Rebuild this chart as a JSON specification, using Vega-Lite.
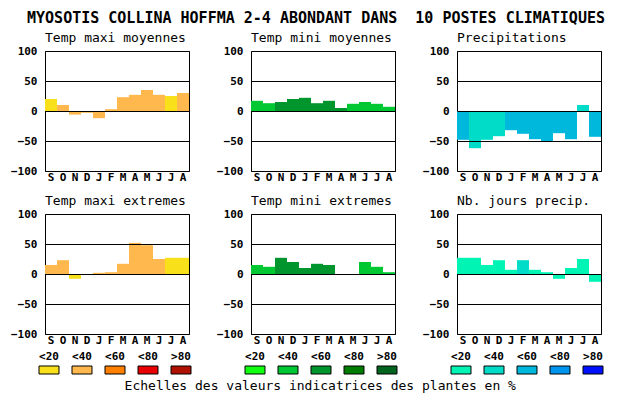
{
  "$schema": "https://vega.github.io/schema/vega-lite/v6.json",
  "background": "white",
  "padding": {"left": 10, "top": 10, "right": 5, "bottom": 3},
  "title": {"text": "MYOSOTIS COLLINA HOFFMA 2-4 ABONDANT DANS \u00a010 POSTES CLIMATIQUES", "fontSize": 15, "fontWeight": "bold", "anchor": "middle", "offset": 6},
  "datasets": {
    "tmaxmoy": [
      {"mois": "Sept", "valeur": 20, "classe": "<20"}, {"mois": "Oct", "valeur": 10, "classe": "<40"},
      {"mois": "Nov", "valeur": -6, "classe": "<40"}, {"mois": "Dec", "valeur": -3, "classe": "<40"},
      {"mois": "Janv", "valeur": -12, "classe": "<40"}, {"mois": "Fevr", "valeur": 3, "classe": "<40"},
      {"mois": "Mars", "valeur": 23, "classe": "<40"}, {"mois": "Avr", "valeur": 27, "classe": "<40"},
      {"mois": "Mai", "valeur": 35, "classe": "<40"}, {"mois": "Juin", "valeur": 27, "classe": "<40"},
      {"mois": "Juil", "valeur": 25, "classe": "<20"}, {"mois": "Aout", "valeur": 30, "classe": "<40"}
    ],
    "tminmoy": [
      {"mois": "Sept", "valeur": 17, "classe": "<40"}, {"mois": "Oct", "valeur": 13, "classe": "<40"},
      {"mois": "Nov", "valeur": 15, "classe": "<60"}, {"mois": "Dec", "valeur": 20, "classe": "<60"},
      {"mois": "Janv", "valeur": 22, "classe": "<60"}, {"mois": "Fevr", "valeur": 13, "classe": "<60"},
      {"mois": "Mars", "valeur": 17, "classe": "<60"}, {"mois": "Avr", "valeur": 5, "classe": "<60"},
      {"mois": "Mai", "valeur": 12, "classe": "<40"}, {"mois": "Juin", "valeur": 15, "classe": "<40"},
      {"mois": "Juil", "valeur": 12, "classe": "<40"}, {"mois": "Aout", "valeur": 7, "classe": "<40"}
    ],
    "precip": [
      {"mois": "Sept", "valeur": -48, "classe": "<60"}, {"mois": "Oct", "valeur": -62, "classe": "<40"},
      {"mois": "Nov", "valeur": -48, "classe": "<40"}, {"mois": "Dec", "valeur": -42, "classe": "<40"},
      {"mois": "Janv", "valeur": -32, "classe": "<60"}, {"mois": "Fevr", "valeur": -38, "classe": "<60"},
      {"mois": "Mars", "valeur": -47, "classe": "<60"}, {"mois": "Avr", "valeur": -50, "classe": "<60"},
      {"mois": "Mai", "valeur": -37, "classe": "<60"}, {"mois": "Juin", "valeur": -47, "classe": "<60"},
      {"mois": "Juil", "valeur": 10, "classe": "<40"}, {"mois": "Aout", "valeur": -43, "classe": "<60"}
    ],
    "tmaxext": [
      {"mois": "Sept", "valeur": 15, "classe": "<40"}, {"mois": "Oct", "valeur": 23, "classe": "<40"},
      {"mois": "Nov", "valeur": -8, "classe": "<20"}, {"mois": "Dec", "valeur": 0, "classe": "<40"},
      {"mois": "Janv", "valeur": 2, "classe": "<40"}, {"mois": "Fevr", "valeur": 3, "classe": "<40"},
      {"mois": "Mars", "valeur": 17, "classe": "<40"}, {"mois": "Avr", "valeur": 52, "classe": "<40"},
      {"mois": "Mai", "valeur": 48, "classe": "<40"}, {"mois": "Juin", "valeur": 25, "classe": "<40"},
      {"mois": "Juil", "valeur": 27, "classe": "<20"}, {"mois": "Aout", "valeur": 27, "classe": "<20"}
    ],
    "tminext": [
      {"mois": "Sept", "valeur": 15, "classe": "<40"}, {"mois": "Oct", "valeur": 12, "classe": "<40"},
      {"mois": "Nov", "valeur": 27, "classe": "<60"}, {"mois": "Dec", "valeur": 20, "classe": "<60"},
      {"mois": "Janv", "valeur": 10, "classe": "<60"}, {"mois": "Fevr", "valeur": 17, "classe": "<60"},
      {"mois": "Mars", "valeur": 15, "classe": "<60"}, {"mois": "Avr", "valeur": 0, "classe": "<60"},
      {"mois": "Mai", "valeur": 0, "classe": "<40"}, {"mois": "Juin", "valeur": 20, "classe": "<40"},
      {"mois": "Juil", "valeur": 12, "classe": "<40"}, {"mois": "Aout", "valeur": 3, "classe": "<40"}
    ],
    "nbjours": [
      {"mois": "Sept", "valeur": 27, "classe": "<20"}, {"mois": "Oct", "valeur": 27, "classe": "<20"},
      {"mois": "Nov", "valeur": 15, "classe": "<20"}, {"mois": "Dec", "valeur": 23, "classe": "<20"},
      {"mois": "Janv", "valeur": 7, "classe": "<20"}, {"mois": "Fevr", "valeur": 23, "classe": "<40"},
      {"mois": "Mars", "valeur": 7, "classe": "<20"}, {"mois": "Avr", "valeur": 3, "classe": "<20"},
      {"mois": "Mai", "valeur": -8, "classe": "<20"}, {"mois": "Juin", "valeur": 10, "classe": "<20"},
      {"mois": "Juil", "valeur": 25, "classe": "<20"}, {"mois": "Aout", "valeur": -13, "classe": "<20"}
    ],
    "classes": [
      {"classe": "<20"}, {"classe": "<40"}, {"classe": "<60"}, {"classe": "<80"}, {"classe": ">80"}
    ]
  },
  "vconcat": [
    {
      "vconcat": [
        {
          "hconcat": [
            {
              "title": {"text": "Temp maxi moyennes", "anchor": "start", "frame": "group", "fontSize": 13, "fontWeight": "normal", "offset": 0},
              "width": 144, "height": 120,
              "data": {"name": "tmaxmoy"},
              "mark": {"type": "bar"},
              "encoding": {
                "x": {"field": "mois", "type": "ordinal", "sort": ["Sept","Oct","Nov","Dec","Janv","Fevr","Mars","Avr","Mai","Juin","Juil","Aout"], "scale": {"paddingInner": 0, "paddingOuter": 0}, "axis": {"labelExpr": "substring(datum.label, 0, 1)", "labelAngle": 0, "labelPadding": 0, "grid": false}},
                "y": {"field": "valeur", "type": "quantitative", "scale": {"domain": [-100, 100], "nice": false}, "axis": {"values": [-100, -50, 0, 50, 100], "grid": true, "gridColor": "black", "gridOpacity": 1, "gridWidth": 1, "labelPadding": 8, "zindex": 1}},
                "color": {"field": "classe", "type": "nominal", "scale": {"domain": ["<20","<40","<60","<80",">80"], "range": ["#f8e11a","#ffb84d","#ff8000","#e80000","#b01000"]}, "legend": null}
              }
            },
            {
              "title": {"text": "Temp mini moyennes", "anchor": "start", "frame": "group", "fontSize": 13, "fontWeight": "normal", "offset": 0},
              "width": 144, "height": 120,
              "data": {"name": "tminmoy"},
              "mark": {"type": "bar"},
              "encoding": {
                "x": {"field": "mois", "type": "ordinal", "sort": ["Sept","Oct","Nov","Dec","Janv","Fevr","Mars","Avr","Mai","Juin","Juil","Aout"], "scale": {"paddingInner": 0, "paddingOuter": 0}, "axis": {"labelExpr": "substring(datum.label, 0, 1)", "labelAngle": 0, "labelPadding": 0, "grid": false}},
                "y": {"field": "valeur", "type": "quantitative", "scale": {"domain": [-100, 100], "nice": false}, "axis": {"values": [-100, -50, 0, 50, 100], "grid": true, "gridColor": "black", "gridOpacity": 1, "gridWidth": 1, "labelPadding": 8, "zindex": 1}},
                "color": {"field": "classe", "type": "nominal", "scale": {"domain": ["<20","<40","<60","<80",">80"], "range": ["#10ff10","#00c832","#00962d","#007d00","#00641e"]}, "legend": null}
              }
            },
            {
              "title": {"text": "Precipitations", "anchor": "start", "frame": "group", "fontSize": 13, "fontWeight": "normal", "offset": 0},
              "width": 144, "height": 120,
              "data": {"name": "precip"},
              "mark": {"type": "bar"},
              "encoding": {
                "x": {"field": "mois", "type": "ordinal", "sort": ["Sept","Oct","Nov","Dec","Janv","Fevr","Mars","Avr","Mai","Juin","Juil","Aout"], "scale": {"paddingInner": 0, "paddingOuter": 0}, "axis": {"labelExpr": "substring(datum.label, 0, 1)", "labelAngle": 0, "labelPadding": 0, "grid": false}},
                "y": {"field": "valeur", "type": "quantitative", "scale": {"domain": [-100, 100], "nice": false}, "axis": {"values": [-100, -50, 0, 50, 100], "grid": true, "gridColor": "black", "gridOpacity": 1, "gridWidth": 1, "labelPadding": 8, "zindex": 1}},
                "color": {"field": "classe", "type": "nominal", "scale": {"domain": ["<20","<40","<60","<80",">80"], "range": ["#00f5b4","#00dcc8","#00b8dc","#0096f0","#0010ff"]}, "legend": null}
              }
            }
          ],
          "spacing": 62, "bounds": "flush",
          "resolve": {"scale": {"color": "independent"}}
        },
        {
          "hconcat": [
            {
              "title": {"text": "Temp maxi extremes", "anchor": "start", "frame": "group", "fontSize": 13, "fontWeight": "normal", "offset": 0},
              "width": 144, "height": 120,
              "data": {"name": "tmaxext"},
              "mark": {"type": "bar"},
              "encoding": {
                "x": {"field": "mois", "type": "ordinal", "sort": ["Sept","Oct","Nov","Dec","Janv","Fevr","Mars","Avr","Mai","Juin","Juil","Aout"], "scale": {"paddingInner": 0, "paddingOuter": 0}, "axis": {"labelExpr": "substring(datum.label, 0, 1)", "labelAngle": 0, "labelPadding": 0, "grid": false}},
                "y": {"field": "valeur", "type": "quantitative", "scale": {"domain": [-100, 100], "nice": false}, "axis": {"values": [-100, -50, 0, 50, 100], "grid": true, "gridColor": "black", "gridOpacity": 1, "gridWidth": 1, "labelPadding": 8, "zindex": 1}},
                "color": {"field": "classe", "type": "nominal", "scale": {"domain": ["<20","<40","<60","<80",">80"], "range": ["#f8e11a","#ffb84d","#ff8000","#e80000","#b01000"]}, "legend": null}
              }
            },
            {
              "title": {"text": "Temp mini extremes", "anchor": "start", "frame": "group", "fontSize": 13, "fontWeight": "normal", "offset": 0},
              "width": 144, "height": 120,
              "data": {"name": "tminext"},
              "mark": {"type": "bar"},
              "encoding": {
                "x": {"field": "mois", "type": "ordinal", "sort": ["Sept","Oct","Nov","Dec","Janv","Fevr","Mars","Avr","Mai","Juin","Juil","Aout"], "scale": {"paddingInner": 0, "paddingOuter": 0}, "axis": {"labelExpr": "substring(datum.label, 0, 1)", "labelAngle": 0, "labelPadding": 0, "grid": false}},
                "y": {"field": "valeur", "type": "quantitative", "scale": {"domain": [-100, 100], "nice": false}, "axis": {"values": [-100, -50, 0, 50, 100], "grid": true, "gridColor": "black", "gridOpacity": 1, "gridWidth": 1, "labelPadding": 8, "zindex": 1}},
                "color": {"field": "classe", "type": "nominal", "scale": {"domain": ["<20","<40","<60","<80",">80"], "range": ["#10ff10","#00c832","#00962d","#007d00","#00641e"]}, "legend": null}
              }
            },
            {
              "title": {"text": "Nb. jours precip.", "anchor": "start", "frame": "group", "fontSize": 13, "fontWeight": "normal", "offset": 0},
              "width": 144, "height": 120,
              "data": {"name": "nbjours"},
              "mark": {"type": "bar"},
              "encoding": {
                "x": {"field": "mois", "type": "ordinal", "sort": ["Sept","Oct","Nov","Dec","Janv","Fevr","Mars","Avr","Mai","Juin","Juil","Aout"], "scale": {"paddingInner": 0, "paddingOuter": 0}, "axis": {"labelExpr": "substring(datum.label, 0, 1)", "labelAngle": 0, "labelPadding": 0, "grid": false}},
                "y": {"field": "valeur", "type": "quantitative", "scale": {"domain": [-100, 100], "nice": false}, "axis": {"values": [-100, -50, 0, 50, 100], "grid": true, "gridColor": "black", "gridOpacity": 1, "gridWidth": 1, "labelPadding": 8, "zindex": 1}},
                "color": {"field": "classe", "type": "nominal", "scale": {"domain": ["<20","<40","<60","<80",">80"], "range": ["#00f5b4","#00dcc8","#00b8dc","#0096f0","#0010ff"]}, "legend": null}
              }
            }
          ],
          "spacing": 62, "bounds": "flush",
          "resolve": {"scale": {"color": "independent"}}
        }
      ],
      "spacing": 11, "bounds": "full",
      "resolve": {"scale": {"color": "independent"}}
    },
    {
      "title": {"text": "Echelles des valeurs indicatrices des plantes en %", "orient": "bottom", "anchor": "middle", "fontSize": 13, "fontWeight": "normal", "offset": 5, "dx": -10},
      "hconcat": [
        {
          "width": 144, "height": 8,
          "view": {"stroke": null},
          "data": {"name": "classes"},
          "mark": {"type": "rect", "stroke": "black", "strokeWidth": 1},
          "encoding": {
            "x": {"field": "classe", "type": "ordinal", "sort": ["<20","<40","<60","<80",">80"], "scale": {"range": [-12.5, 152.5], "paddingInner": 0.394, "paddingOuter": 0.197}, "axis": {"orient": "top", "labelAngle": 0, "labelPadding": 5, "grid": false}},
            "color": {"field": "classe", "type": "nominal", "scale": {"domain": ["<20","<40","<60","<80",">80"], "range": ["#f8e11a","#ffb84d","#ff8000","#e80000","#b01000"]}, "legend": null}
          }
        },
        {
          "width": 144, "height": 8,
          "view": {"stroke": null},
          "data": {"name": "classes"},
          "mark": {"type": "rect", "stroke": "black", "strokeWidth": 1},
          "encoding": {
            "x": {"field": "classe", "type": "ordinal", "sort": ["<20","<40","<60","<80",">80"], "scale": {"range": [-12.5, 152.5], "paddingInner": 0.394, "paddingOuter": 0.197}, "axis": {"orient": "top", "labelAngle": 0, "labelPadding": 5, "grid": false}},
            "color": {"field": "classe", "type": "nominal", "scale": {"domain": ["<20","<40","<60","<80",">80"], "range": ["#10ff10","#00c832","#00962d","#007d00","#00641e"]}, "legend": null}
          }
        },
        {
          "width": 144, "height": 8,
          "view": {"stroke": null},
          "data": {"name": "classes"},
          "mark": {"type": "rect", "stroke": "black", "strokeWidth": 1},
          "encoding": {
            "x": {"field": "classe", "type": "ordinal", "sort": ["<20","<40","<60","<80",">80"], "scale": {"range": [-12.5, 152.5], "paddingInner": 0.394, "paddingOuter": 0.197}, "axis": {"orient": "top", "labelAngle": 0, "labelPadding": 5, "grid": false}},
            "color": {"field": "classe", "type": "nominal", "scale": {"domain": ["<20","<40","<60","<80",">80"], "range": ["#00f5b4","#00dcc8","#00b8dc","#0096f0","#0010ff"]}, "legend": null}
          }
        }
      ],
      "spacing": 62, "bounds": "flush",
      "resolve": {"scale": {"color": "independent", "x": "independent"}}
    }
  ],
  "spacing": 4,
  "bounds": "full",
  "resolve": {"scale": {"color": "independent"}},
  "config": {
    "font": "DejaVu Sans Mono",
    "view": {"stroke": "black", "strokeWidth": 1},
    "axis": {"labelFont": "DejaVu Sans Mono", "labelColor": "black", "labelFontWeight": "bold", "labelFontSize": 11, "ticks": false, "domain": false, "title": null},
    "title": {"font": "DejaVu Sans Mono", "color": "black"}
  }
}
